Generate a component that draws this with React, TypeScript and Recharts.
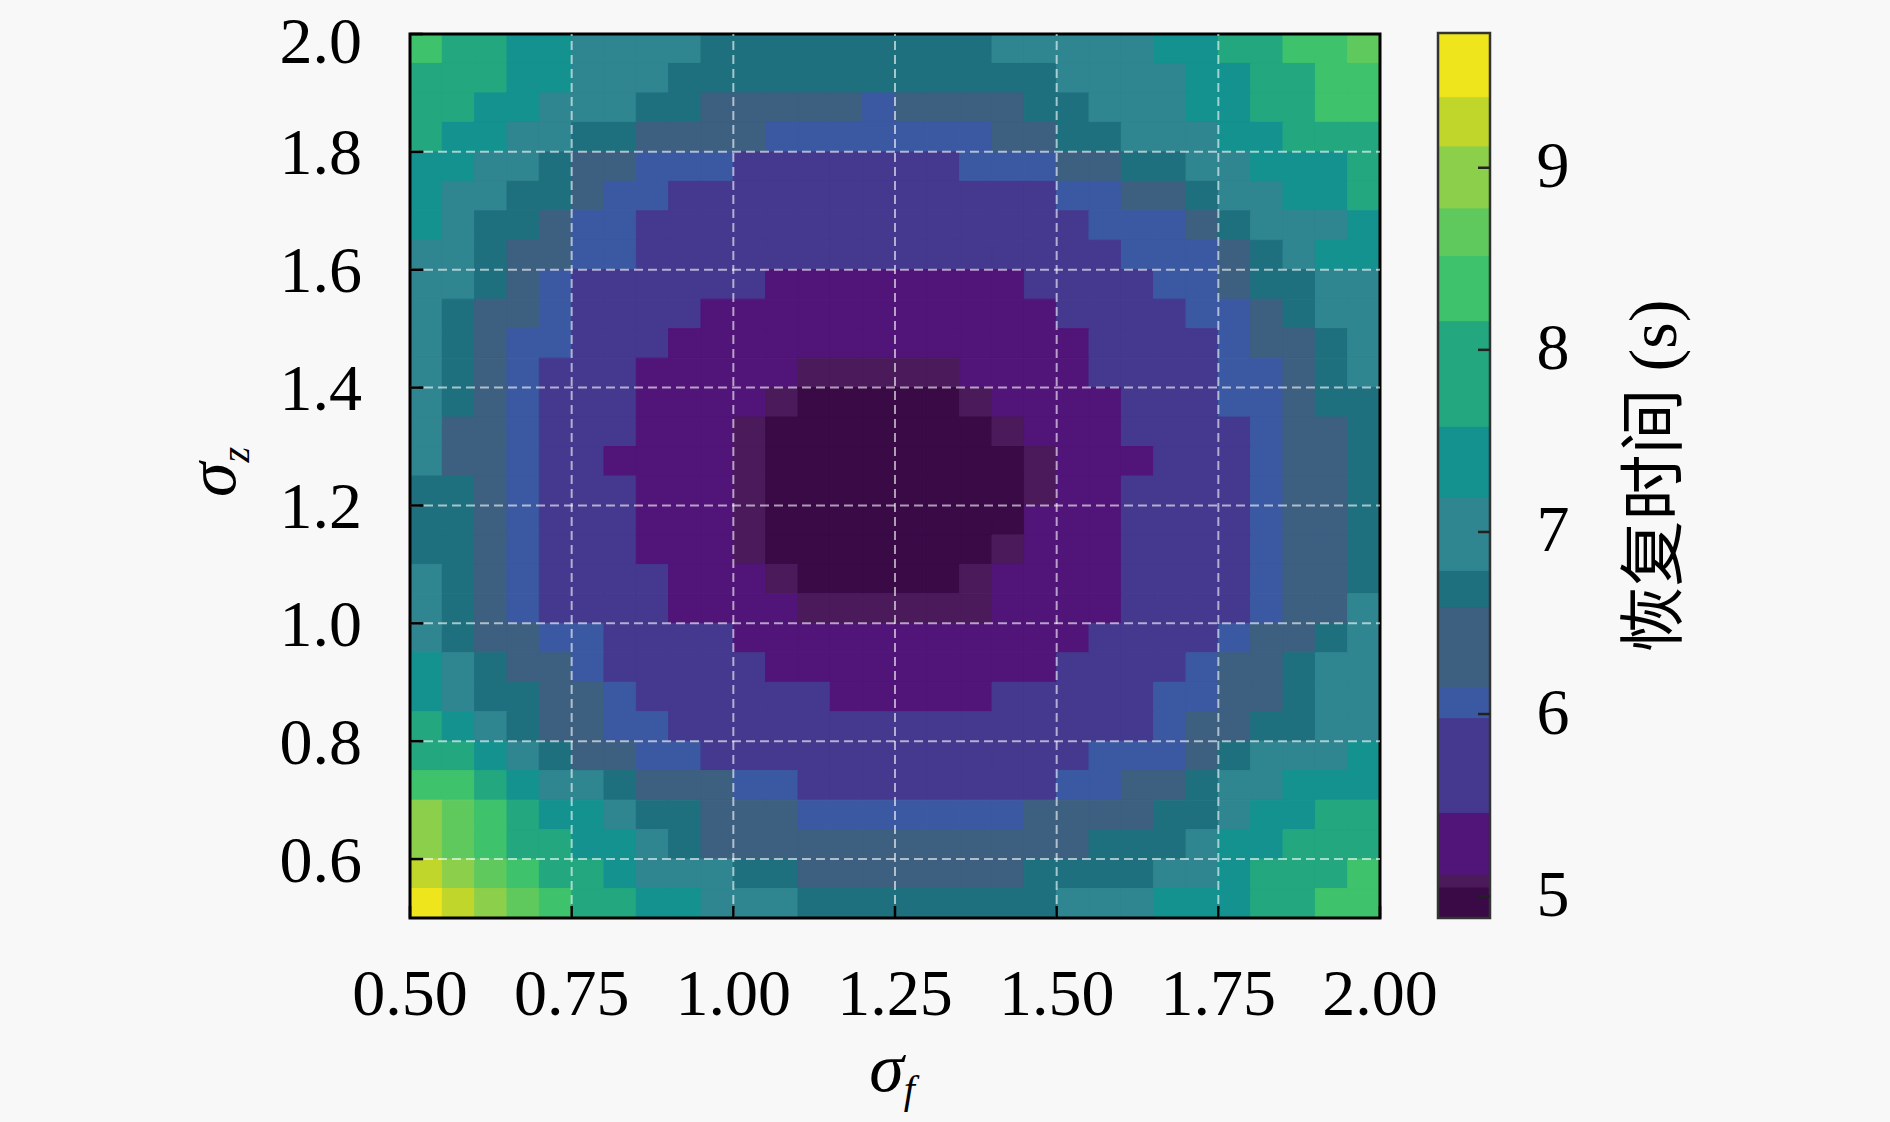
import React from 'react';
import { ComposedChart, XAxis, YAxis, ReferenceArea, ReferenceLine } from 'recharts';

// ---- data ----
const SIGMA_F = [0.525, 0.575, 0.625, 0.675, 0.725, 0.775, 0.825, 0.875, 0.925, 0.975, 1.025, 1.075, 1.125, 1.175, 1.225, 1.275, 1.325, 1.375, 1.425, 1.475, 1.525, 1.575, 1.625, 1.675, 1.725, 1.775, 1.825, 1.875, 1.925, 1.975];
const SIGMA_Z = [1.975, 1.925, 1.875, 1.825, 1.775, 1.725, 1.675, 1.625, 1.575, 1.525, 1.475, 1.425, 1.375, 1.325, 1.275, 1.225, 1.175, 1.125, 1.075, 1.025, 0.975, 0.925, 0.875, 0.825, 0.775, 0.725, 0.675, 0.625, 0.575, 0.525];

// recovery-time level of every cell (rows: sigma_z from 1.975 down to 0.525, columns: sigma_f 0.525 .. 1.975)
const LEVEL_CODES = '0123456789abcde';
const LEVEL_VALUES = [4.97, 5.08, 5.3, 5.7, 6.07, 6.4, 6.7, 7.0, 7.4, 7.9, 8.35, 8.65, 8.95, 9.25, 9.6];
const RECOVERY_GRID = [
  'a99887777666666666777778899aab',
  '9998877766666666666677778899aa',
  '9988777665555545555667778899aa',
  '988776655554444444556677788999',
  '887765544433333334445566778889',
  '877665443333333333334455677889',
  '876654433333333333333444567778',
  '776554433333333333333344456788',
  '776543333332222222233334456677',
  '765543333222222222223333445677',
  '765443332222222222222333345567',
  '765433322222111112222333344567',
  '765433322221000001222233344566',
  '755433322210000000122233334556',
  '755433222210000000012223334556',
  '665433322210000000012233334556',
  '665433322210000000022233334556',
  '665433322210000000122233334556',
  '765433332221000001222233334556',
  '765433332222111111222233334557',
  '765544333322222222222333345567',
  '876554333332222222223333455677',
  '876655433333322222333334455677',
  '987655443333333333333334556677',
  '998765544333333333333444567778',
  'aa9877655544333333334455677888',
  'cba988766555444444455556678899',
  'cba998876555555555555666788999',
  'dcba9987776655555556666778999a',
  'edcba99887776666666677788899aa',
];

// colour bands of the (posterised) viridis scale, edges in seconds
const BAND_EDGES = [4.88, 5.05, 5.12, 5.46, 5.98, 6.15, 6.59, 6.79, 7.19, 7.58, 8.16, 8.52, 8.78, 9.12, 9.39, 9.74];
const BAND_COLORS = ['#390a46', '#4b1a5b', '#511478', '#44388f', '#3b59a2', '#3d5f80', '#1f707f', '#2f8590', '#139290', '#22a77f', '#3ec26b', '#60c95e', '#8ccf4a', '#c0d62a', '#efe51c'];

const X_TICKS = [0.5, 0.75, 1.0, 1.25, 1.5, 1.75, 2.0];
const Y_TICKS = [0.6, 0.8, 1.0, 1.2, 1.4, 1.6, 1.8, 2.0];
const X_GRID = [0.75, 1.0, 1.25, 1.5, 1.75];
const Y_GRID = [0.6, 0.8, 1.0, 1.2, 1.4, 1.6, 1.8];
const CB_TICKS = [5, 6, 7, 8, 9];

const SERIF = '"Liberation Serif", "Times New Roman", serif';
const CJK = '"Noto Sans CJK SC", "Noto Sans CJK JP", sans-serif';

function colorFor(v: number): string {
  for (let k = 0; k < BAND_COLORS.length; k++) {
    if (v < BAND_EDGES[k + 1]) return BAND_COLORS[k];
  }
  return BAND_COLORS[BAND_COLORS.length - 1];
}

const halfX = (SIGMA_F[1] - SIGMA_F[0]) / 2;
const halfY = (SIGMA_Z[0] - SIGMA_Z[1]) / 2;

const cells: { x1: number; x2: number; y1: number; y2: number; v: number }[] = [];
RECOVERY_GRID.forEach((row, j) => {
  for (let i = 0; i < SIGMA_F.length; i++) {
    const idx = LEVEL_CODES.indexOf(row[i]);
    const v = LEVEL_VALUES[idx < 0 ? 0 : idx];
    cells.push({
      x1: SIGMA_F[i] - halfX,
      x2: SIGMA_F[i] + halfX,
      y1: SIGMA_Z[j] - halfY,
      y2: SIGMA_Z[j] + halfY,
      v,
    });
  }
});

function XTick(props: any) {
  const { x, y, payload } = props;
  return (
    <g>
      <line x1={x} y1={y} x2={x} y2={y - 12} stroke="#000" strokeWidth={2.5} />
      <text x={x} y={y + 74} textAnchor="middle" dominantBaseline="central" fontFamily={SERIF} fontSize={66} fill="#000">
        {Number(payload.value).toFixed(2)}
      </text>
    </g>
  );
}

function YTick(props: any) {
  const { x, y, payload } = props;
  return (
    <g>
      <line x1={x} y1={y} x2={x + 13} y2={y} stroke="#000" strokeWidth={2.5} />
      <text x={x - 48} y={Math.max(y, 40)} textAnchor="end" dominantBaseline="central" fontFamily={SERIF} fontSize={66} fill="#000">
        {Number(payload.value).toFixed(1)}
      </text>
    </g>
  );
}

function CbTick(props: any) {
  const { x, y, payload } = props;
  return (
    <g>
      <line x1={x} y1={y} x2={x - 12} y2={y} stroke="#222" strokeWidth={2.5} />
      <text x={x + 63} y={y - 3} textAnchor="middle" dominantBaseline="central" fontFamily={SERIF} fontSize={66} fill="#000">
        {String(payload.value)}
      </text>
    </g>
  );
}

const DUMMY = [{ x: 0.5, y: 0.5 }, { x: 2, y: 2 }];

export default function App() {
  return (
    <div style={{ position: 'absolute', left: 0, top: 0, width: 1890, height: 1122, background: '#f8f8f8', overflow: 'hidden' }}>
      <div style={{ position: 'absolute', left: 0, top: 0 }}>
        <ComposedChart width={1890} height={1122} data={DUMMY} margin={{ top: 34, right: 510, bottom: 203, left: 409 }}>
          <XAxis
            type="number"
            dataKey="x"
            domain={[0.5, 2]}
            ticks={X_TICKS}
            interval={0}
            allowDataOverflow
            height={1}
            tickSize={0}
            tickMargin={0}
            axisLine={false}
            tickLine={false}
            tick={(p: any) => <XTick {...p} />}
          />
          <YAxis
            type="number"
            dataKey="y"
            domain={[0.5, 2]}
            ticks={Y_TICKS}
            interval={0}
            allowDataOverflow
            width={1}
            tickSize={0}
            tickMargin={0}
            axisLine={false}
            tickLine={false}
            tick={(p: any) => <YTick {...p} />}
          />
          {cells.map((c, k) => {
            const col = colorFor(c.v);
            return (
              <ReferenceArea
                key={'c' + k}
                x1={c.x1}
                x2={c.x2}
                y1={c.y1}
                y2={c.y2}
                fill={col}
                fillOpacity={1}
                stroke={col}
                strokeWidth={1}
                ifOverflow="visible"
              />
            );
          })}
          <ReferenceArea x1={0.5} x2={2} y1={0.5} y2={2} fill="none" fillOpacity={0} stroke="#000" strokeWidth={3} ifOverflow="visible" />
          {X_GRID.map((v) => (
            <ReferenceLine key={'gx' + v} x={v} stroke="#ffffff" strokeOpacity={0.6} strokeWidth={2} strokeDasharray="9 5" />
          ))}
          {Y_GRID.map((v) => (
            <ReferenceLine key={'gy' + v} y={v} stroke="#ffffff" strokeOpacity={0.6} strokeWidth={2} strokeDasharray="9 5" />
          ))}
        </ComposedChart>
      </div>

      <div style={{ position: 'absolute', left: 0, top: 0 }}>
        <ComposedChart width={1890} height={1122} data={[{ x: 0, y: 5 }, { x: 1, y: 9 }]} margin={{ top: 33, right: 399, bottom: 204, left: 1438 }}>
          <XAxis type="number" dataKey="x" domain={[0, 1]} hide allowDataOverflow />
          <YAxis
            type="number"
            dataKey="y"
            orientation="right"
            domain={[4.88, 9.74]}
            ticks={CB_TICKS}
            interval={0}
            allowDataOverflow
            width={1}
            tickSize={0}
            tickMargin={0}
            axisLine={false}
            tickLine={false}
            tick={(p: any) => <CbTick {...p} />}
          />
          {BAND_COLORS.map((col, k) => (
            <ReferenceArea
              key={'b' + k}
              x1={0}
              x2={1}
              y1={BAND_EDGES[k]}
              y2={BAND_EDGES[k + 1]}
              fill={col}
              fillOpacity={1}
              stroke={col}
              strokeWidth={1}
              ifOverflow="visible"
            />
          ))}
          <ReferenceArea x1={0} x2={1} y1={4.88} y2={9.74} fill="none" fillOpacity={0} stroke="#333" strokeWidth={2.5} ifOverflow="visible" />
        </ComposedChart>
      </div>

      <svg width={1890} height={1122} style={{ position: 'absolute', left: 0, top: 0, pointerEvents: 'none' }}>
        <text x={892} y={1091} textAnchor="middle" fontFamily={SERIF} fontSize={70} fontStyle="italic" fill="#000">
          σ<tspan fontSize={40} dy={12}>f</tspan>
        </text>
        <text x={235} y={472} transform="rotate(-90 235 472)" textAnchor="middle" fontFamily={SERIF} fontSize={70} fontStyle="italic" fill="#000">
          σ<tspan fontSize={40} dy={14}>z</tspan>
        </text>
        <text x={1676} y={476} transform="rotate(-90 1676 476)" textAnchor="middle" fill="#000">
          <tspan fontFamily={CJK} fontSize={66}>恢复时间</tspan>
          <tspan fontFamily={SERIF} fontSize={68}> (s)</tspan>
        </text>
      </svg>
    </div>
  );
}
